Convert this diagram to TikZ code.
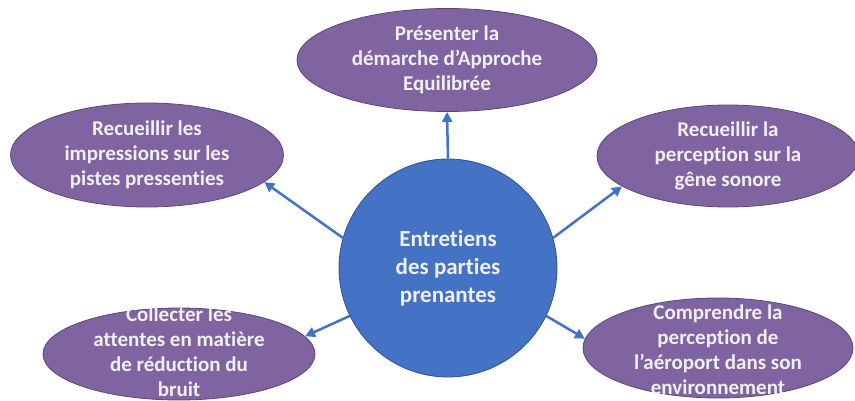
\documentclass[tikz,border=0pt]{standalone}
\usepackage{fontspec}
\setmainfont{Carlito}[Ligatures=NoCommon]
\usetikzlibrary{shapes.geometric,arrows.meta}
\definecolor{bulleFond}{HTML}{8064A2}
\definecolor{bulleBord}{HTML}{5B4677}
\definecolor{rondFond}{HTML}{4472C4}
\definecolor{rondBord}{HTML}{2F528F}
\begin{document}
\begin{tikzpicture}[x=1pt,y=-1pt,line join=round,
    bulle/.style={ellipse,draw=bulleBord,fill=bulleFond,line width=0.8pt,inner sep=0pt},
    txt/.style={align=center,text=white!94!black,font=\bfseries\fontsize{21}{25}\selectfont},
    fleche/.style={draw=rondFond,line width=2.5pt,-{Triangle[length=10pt,width=10pt]}}]
    \useasboundingbox (0,0) rectangle (855,401);
    % bulles
    \node[bulle,minimum width=300pt,minimum height=103pt] (approche) at (447,60) {};
    \node[bulle,minimum width=273pt,minimum height=104pt] (pistes) at (147,155) {};
    \node[bulle,minimum width=262pt,minimum height=102pt] (gene) at (728,156) {};
    \node[bulle,minimum width=272pt,minimum height=92pt] (attentes) at (179,354) {};
    \node[bulle,minimum width=270pt,minimum height=100pt] (aeroport) at (718,348) {};
    \node[txt] at (approche) {Présenter la\\démarche d’Approche\\Equilibrée};
    \node[txt] at (pistes) {Recueillir les\\impressions sur les\\pistes pressenties};
    \node[txt] at (gene) {Recueillir la\\perception sur la\\gêne sonore};
    \node[txt] at ([yshift=2pt]attentes) {Collecter les\\attentes en matière\\de réduction du\\bruit};
    \node[txt] at ([yshift=-2pt]aeroport) {Comprendre la\\perception de\\l’aéroport dans son\\environnement};
    % rond central
    \node[circle,draw=rondBord,fill=rondFond,line width=0.8pt,minimum size=218pt,inner sep=0pt,
          txt,font=\bfseries\fontsize{23}{28}\selectfont] (centre) at (448,268)
          {Entretiens\\des parties\\prenantes};
    % fleches
    \draw[fleche] (centre.90) -- (approche.-90);
    \draw[fleche] (centre.164) -- (pistes.-13);
    \draw[fleche] (centre.16) -- (gene.196);
    \draw[fleche] (centre.206) -- (attentes.8);
    \draw[fleche] (centre.334) -- (aeroport.176);
\end{tikzpicture}
\end{document}
